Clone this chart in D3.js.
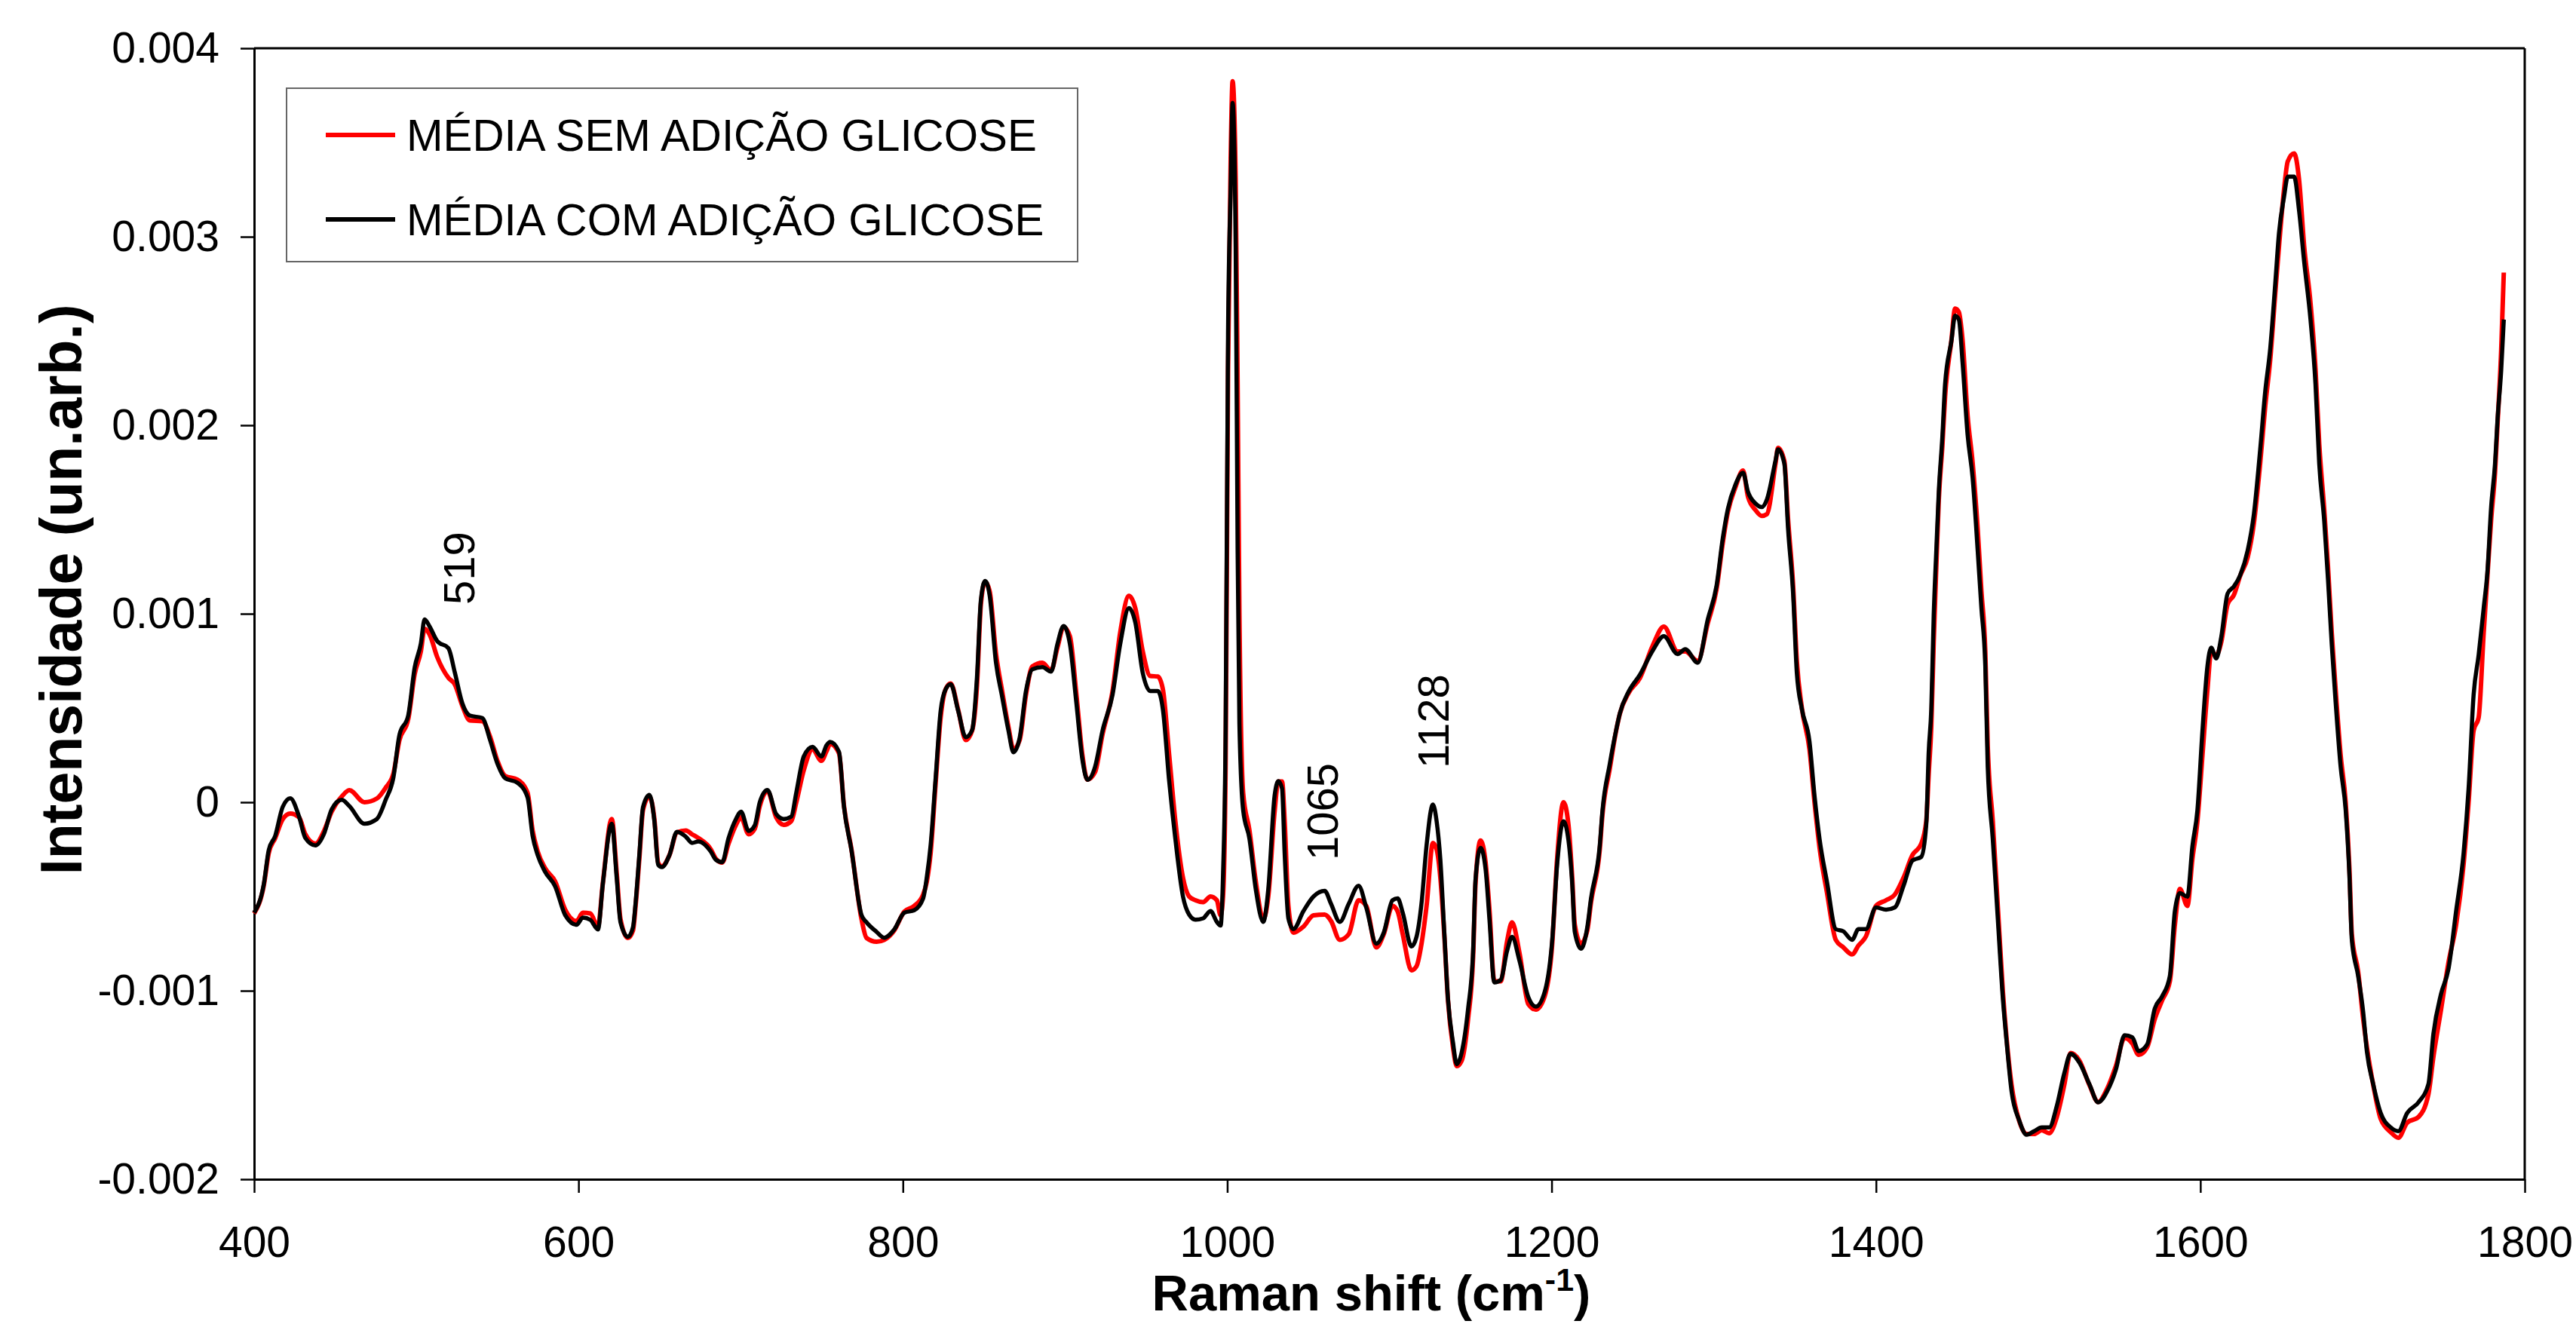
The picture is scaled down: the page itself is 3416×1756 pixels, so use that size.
<!DOCTYPE html>
<html>
<head>
<meta charset="utf-8">
<script src="https://cdn.jsdelivr.net/npm/d3@7/dist/d3.min.js"></script>
<style>
  html, body { margin: 0; padding: 0; background: #fff; }
  svg { display: block; }
  text { font-family: "Liberation Sans", Arial, sans-serif; }
</style>
</head>
<body>
<svg id="chart" width="3416" height="1756"></svg>
<script>
// Raman shift (cm-1)
const wavenumber = [
  400,406,409,413,417.6,422.3,427.7,431.6,437.8,443.2,
  447.8,454,458.7,468,475.7,481.1,485.8,489.6,495,499,
  502.8,505.1,508.2,512.9,519.8,523.7,528.4,533,540.7,545.4,
  550,554.7,562.4,568.6,571.7,574.8,579.4,585.6,591.8,598.8,
  602.7,607.3,612,615,620.5,623.6,625.9,630.5,633.6,635.2,
  637.5,639.8,643.7,646.8,649.1,651.4,656.1,660.7,666.2,670,
  673.9,681.6,684.7,688.6,692.5,697.1,700.2,704.9,708.7,711.8,
  716.5,721.9,726.5,731.2,734.3,738.9,744.3,749.8,752.9,755.2,
  760.6,763.7,768.3,774.5,777.6,783.8,788.5,794.7,800.9,807,
  812.5,814.8,817.1,820.2,823.3,826.4,829.5,834.1,838.8,842.7,
  845.7,848.1,850.7,853.5,857.4,861.2,865.1,868.2,872,875.9,
  879.8,886,891.4,895.3,899.1,903,906.9,910.7,913.8,918.5,
  923.1,929.3,934,939.4,943.3,947.9,952.5,957.2,960.3,964.2,
  968,972.7,976.5,980.4,985.1,989.7,993.6,995.9,997.4,999,
  1000.5,1002.1,1003.3,1005.2,1006.4,1007.5,1009.8,1013.7,1017.6,1022.2,
  1025.3,1029.2,1031.5,1033.8,1035.4,1037.7,1040.8,1047,1053.2,1060.1,
  1064,1069.4,1074.9,1081,1085.7,1091.9,1096.5,1101.9,1105.1,1108.2,
  1113.6,1116.7,1119.8,1122.9,1126.8,1129.1,1131.4,1133.8,1136.1,1139.2,
  1141.5,1144.6,1148.5,1151.6,1153.1,1156.2,1159.3,1161.6,1164.7,1168.6,
  1172.5,1175.6,1180.2,1185.6,1190.3,1195.7,1200.3,1203.4,1207.3,1210.4,
  1212.7,1214.3,1218.1,1222,1224.3,1229.7,1231.3,1235.9,1239.8,1242.1,
  1247.5,1254.5,1262.3,1269.2,1277.7,1282.4,1290.1,1296.3,1301.7,1305.6,
  1308.7,1313.3,1318,1321.1,1325.7,1329.6,1332.7,1338.1,1339.6,1343.5,
  1345.8,1348.9,1351.2,1354.3,1359,1362.1,1365.2,1369.8,1375.2,1379.9,
  1385.3,1389.2,1393.8,1400,1406.2,1411.6,1417,1422.5,1427.9,1431,
  1432.5,1434.1,1435.6,1437.2,1438.7,1441,1442.6,1446.5,1448.8,1451.1,
  1453.4,1456.5,1459.6,1462.7,1465,1467.4,1468.9,1472,1475.1,1478.2,
  1480.5,1483.6,1488.3,1492.9,1497.5,1502.2,1506.8,1511.5,1516.1,1520,
  1525.4,1531.6,1537,1542.5,1547.9,1553.3,1558,1562,1567.2,1571.9,
  1576.5,1581.2,1584.3,1587.4,1592,1595.1,1598.2,1601.3,1604.4,1606.7,
  1609.8,1612.9,1616.8,1620.7,1624.5,1629.2,1633,1636.9,1640,1643.1,
  1646.2,1648.5,1651.6,1653.9,1657.8,1660.9,1664,1667.9,1671,1673.3,
  1676.4,1678.7,1681,1683.4,1686.5,1689.6,1691.9,1693.4,1697.3,1700.4,
  1702.7,1706.6,1711.2,1717.4,1722.1,1727.5,1734.5,1740.6,1743.7,1748.4,
  1753,1757.7,1762.3,1765.4,1768.5,1771.6,1774.7,1777,1779.3,1781.7,
  1783.2,1785.5,1787.1
];

// Intensity values in units of 1e-3 (un.arb.)
const mediaComGlicose = [
  -0.586,-0.433,-0.254,-0.178,-0.025,0.021,-0.076,-0.19,-0.229,-0.165,
  -0.038,0.013,-0.02,-0.114,-0.089,0.013,0.128,0.358,0.46,0.715,
  0.842,0.97,0.932,0.855,0.817,0.69,0.524,0.46,0.447,0.332,
  0.205,0.128,0.103,0.026,-0.178,-0.28,-0.369,-0.446,-0.599,-0.65,
  -0.612,-0.624,-0.675,-0.433,-0.114,-0.407,-0.637,-0.714,-0.663,-0.535,
  -0.28,-0.025,0.039,-0.101,-0.331,-0.344,-0.28,-0.157,-0.183,-0.216,
  -0.208,-0.262,-0.305,-0.318,-0.191,-0.089,-0.05,-0.152,-0.122,0.001,
  0.065,-0.063,-0.089,-0.076,0.052,0.243,0.294,0.243,0.302,0.32,
  0.268,-0.025,-0.254,-0.599,-0.637,-0.688,-0.719,-0.675,-0.586,-0.573,
  -0.51,-0.395,-0.229,0.128,0.485,0.6,0.626,0.485,0.345,0.383,
  0.664,1.072,1.174,1.098,0.741,0.56,0.38,0.265,0.341,0.59,
  0.705,0.717,0.693,0.839,0.935,0.839,0.533,0.226,0.119,0.188,
  0.38,0.571,0.839,1.03,0.954,0.686,0.59,0.59,0.494,0.112,
  -0.194,-0.5,-0.596,-0.623,-0.616,-0.577,-0.635,-0.654,-0.386,0.38,
  2.485,3.25,3.71,2.944,1.336,0.418,-0.041,-0.194,-0.462,-0.635,
  -0.462,0.035,0.112,0.073,-0.271,-0.616,-0.673,-0.577,-0.5,-0.47,
  -0.539,-0.635,-0.539,-0.443,-0.558,-0.75,-0.692,-0.52,-0.51,-0.586,
  -0.765,-0.714,-0.535,-0.229,-0.012,-0.101,-0.305,-0.688,-1.045,-1.275,
  -1.39,-1.326,-1.096,-0.79,-0.408,-0.242,-0.356,-0.612,-0.956,-0.943,
  -0.79,-0.714,-0.841,-1.033,-1.084,-1.007,-0.739,-0.331,-0.101,-0.203,
  -0.433,-0.688,-0.777,-0.663,-0.51,-0.229,-0.05,0.205,0.383,0.472,
  0.587,0.677,0.804,0.881,0.786,0.812,0.74,0.97,1.149,1.404,
  1.557,1.684,1.748,1.646,1.585,1.566,1.605,1.815,1.872,1.796,
  1.451,1.107,0.686,0.494,0.322,0.035,-0.194,-0.424,-0.673,-0.685,
  -0.73,-0.673,-0.673,-0.558,-0.57,-0.558,-0.443,-0.309,-0.29,-0.118,
  0.265,0.494,0.992,1.337,1.643,1.949,2.217,2.447,2.581,2.561,
  2.332,1.949,1.72,1.337,1.03,0.724,0.188,-0.194,-0.616,-1.037,
  -1.266,-1.534,-1.688,-1.764,-1.745,-1.725,-1.725,-1.611,-1.438,-1.335,
  -1.381,-1.496,-1.592,-1.534,-1.419,-1.236,-1.247,-1.32,-1.285,-1.094,
  -1.029,-0.922,-0.577,-0.482,-0.501,-0.233,-0.041,0.38,0.724,0.82,
  0.763,0.877,1.107,1.145,1.203,1.337,1.528,1.872,2.179,2.408,
  2.753,3.021,3.212,3.319,3.319,3.136,2.868,2.562,2.217,1.796,
  1.49,1.183,0.839,0.533,0.188,-0.041,-0.386,-0.73,-0.922,-1.113,
  -1.324,-1.496,-1.649,-1.725,-1.745,-1.649,-1.592,-1.496,-1.228,-1.017,
  -0.884,-0.577,-0.271,0.073,0.571,0.782,1.03,1.222,1.566,1.796,
  2.026,2.293,2.561
];

const mediaSemGlicose = [
  -0.59,-0.44,-0.27,-0.19,-0.09,-0.06,-0.08,-0.17,-0.22,-0.15,
  -0.05,0.03,0.064,0.0,0.02,0.077,0.15,0.33,0.44,0.68,
  0.80,0.92,0.89,0.77,0.66,0.626,0.511,0.434,0.43,0.35,
  0.22,0.14,0.12,0.05,-0.15,-0.26,-0.35,-0.42,-0.57,-0.63,
  -0.586,-0.59,-0.66,-0.43,-0.089,-0.38,-0.62,-0.72,-0.68,-0.55,
  -0.30,-0.04,0.03,-0.09,-0.32,-0.34,-0.28,-0.16,-0.15,-0.17,
  -0.19,-0.25,-0.30,-0.32,-0.22,-0.12,-0.08,-0.17,-0.14,-0.02,
  0.06,-0.08,-0.12,-0.10,0.00,0.17,0.28,0.22,0.27,0.31,
  0.26,-0.02,-0.25,-0.62,-0.72,-0.74,-0.73,-0.68,-0.58,-0.55,
  -0.49,-0.42,-0.27,0.10,0.45,0.60,0.63,0.49,0.33,0.38,
  0.62,1.05,1.17,1.12,0.79,0.59,0.40,0.28,0.33,0.57,
  0.72,0.74,0.70,0.82,0.93,0.88,0.58,0.25,0.12,0.16,
  0.36,0.59,0.90,1.095,1.03,0.80,0.67,0.667,0.60,0.25,
  -0.10,-0.40,-0.50,-0.52,-0.53,-0.50,-0.52,-0.60,-0.50,0.20,
  2.30,3.40,3.825,3.30,2.20,1.00,0.05,-0.15,-0.42,-0.62,
  -0.50,-0.05,0.11,0.11,-0.10,-0.55,-0.692,-0.66,-0.60,-0.596,
  -0.63,-0.73,-0.70,-0.52,-0.55,-0.77,-0.70,-0.55,-0.58,-0.70,
  -0.892,-0.87,-0.75,-0.55,-0.216,-0.25,-0.40,-0.70,-1.05,-1.30,
  -1.40,-1.37,-1.15,-0.82,-0.43,-0.203,-0.32,-0.56,-0.95,-0.95,
  -0.74,-0.637,-0.80,-1.07,-1.10,-1.03,-0.76,-0.30,0.00,-0.12,
  -0.40,-0.65,-0.75,-0.68,-0.53,-0.25,-0.07,0.18,0.38,0.47,
  0.58,0.66,0.83,0.932,0.80,0.80,0.75,0.95,1.13,1.38,
  1.54,1.67,1.76,1.62,1.55,1.519,1.528,1.80,1.88,1.81,
  1.50,1.15,0.75,0.50,0.28,0.00,-0.24,-0.48,-0.73,-0.77,
  -0.807,-0.76,-0.712,-0.55,-0.52,-0.49,-0.40,-0.28,-0.22,-0.10,
  0.15,0.40,0.85,1.25,1.60,1.90,2.15,2.45,2.619,2.60,
  2.45,2.05,1.80,1.45,1.12,0.80,0.30,-0.10,-0.55,-1.00,
  -1.25,-1.50,-1.69,-1.76,-1.76,-1.74,-1.756,-1.67,-1.50,-1.33,
  -1.37,-1.50,-1.59,-1.52,-1.40,-1.25,-1.28,-1.34,-1.30,-1.15,
  -1.05,-0.95,-0.65,-0.46,-0.55,-0.30,-0.10,0.25,0.60,0.80,
  0.78,0.85,1.05,1.10,1.20,1.30,1.48,1.80,2.10,2.35,
  2.70,2.95,3.25,3.40,3.442,3.30,2.95,2.65,2.30,1.90,
  1.55,1.25,0.90,0.60,0.25,0.00,-0.35,-0.70,-0.90,-1.15,
  -1.30,-1.50,-1.68,-1.75,-1.78,-1.70,-1.67,-1.55,-1.35,-1.10,
  -0.85,-0.65,-0.33,0.00,0.38,0.45,0.90,1.20,1.50,1.75,
  2.00,2.40,2.81
];
const valueUnit = 1e-3;

const xTicks = [400, 600, 800, 1000, 1200, 1400, 1600, 1800];
const yTicks = [-0.002, -0.001, 0, 0.001, 0.002, 0.003, 0.004];

const seriesNames = ["MÉDIA SEM ADIÇÃO GLICOSE", "MÉDIA COM ADIÇÃO GLICOSE"];
const seriesColors = ["#ff0000", "#000000"];

const peakLabels = ["519", "1065", "1128"];
const peakLabelX = [536, 1068, 1136.7];      // cm-1, baseline position of rotated label
const peakLabelY = [1.048, -0.308, 0.18];     // 1e-3 units, start of rotated label

// ---------- drawing ----------
const svg = d3.select("#chart");
const plotLeft = 337, plotRight = 3348, plotTop = 64, plotBottom = 1564;
const FONT = '"Liberation Sans", Arial, sans-serif';

const x = d3.scaleLinear().domain([400, 1800]).range([plotLeft, plotRight]);
const y = d3.scaleLinear().domain([-0.002, 0.004]).range([plotBottom, plotTop]);

svg.append("rect").attr("width", 3416).attr("height", 1756).attr("fill", "#fff");

// frame (top + right)
svg.append("line").attr("x1", plotLeft).attr("x2", plotRight).attr("y1", plotTop).attr("y2", plotTop)
  .attr("stroke", "#000").attr("stroke-width", 3);
svg.append("line").attr("x1", plotRight).attr("x2", plotRight).attr("y1", plotTop).attr("y2", plotBottom)
  .attr("stroke", "#000").attr("stroke-width", 3);

// axes
const fmtY = d => d === 0 ? "0" : d3.format(".3f")(d).replace("\u2212", "-");
const yAxis = d3.axisLeft(y).tickValues(yTicks).tickFormat(fmtY).tickSize(18).tickSizeOuter(0).tickPadding(28);
const xAxis = d3.axisBottom(x).tickValues(xTicks).tickFormat(d3.format("d")).tickSize(18).tickSizeOuter(0).tickPadding(45);

const gy = svg.append("g").attr("transform", `translate(${plotLeft},0)`).call(yAxis);
const gx = svg.append("g").attr("transform", `translate(0,${plotBottom})`).call(xAxis);
[gx, gy].forEach(g => {
  g.select(".domain").attr("stroke", "#000").attr("stroke-width", 3);
  g.selectAll(".tick line").attr("stroke", "#000").attr("stroke-width", 2.5);
  g.selectAll(".tick text").attr("font-family", FONT).attr("font-size", 57).attr("fill", "#000");
});

// series
const line = d3.line()
  .x(d => x(d[0]))
  .y(d => y(d[1] * valueUnit))
  .curve(d3.curveMonotoneX);

const n = Math.min(wavenumber.length, mediaSemGlicose.length, mediaComGlicose.length);
const semData = d3.range(n).map(i => [wavenumber[i], mediaSemGlicose[i]]);
const comData = d3.range(n).map(i => [wavenumber[i], mediaComGlicose[i]]);

svg.append("path").datum(semData).attr("d", line)
  .attr("fill", "none").attr("stroke", seriesColors[0]).attr("stroke-width", 6)
  .attr("stroke-linejoin", "round");
svg.append("path").datum(comData).attr("d", line)
  .attr("fill", "none").attr("stroke", seriesColors[1]).attr("stroke-width", 5.5)
  .attr("stroke-linejoin", "round");

// peak annotations (rotated)
peakLabels.forEach((t, i) => {
  svg.append("text")
    .attr("transform", `translate(${x(peakLabelX[i])},${y(peakLabelY[i] * valueUnit)}) rotate(-90)`)
    .attr("font-family", FONT).attr("font-size", 58).attr("fill", "#000")
    .text(t);
});

// legend
const lg = svg.append("g");
lg.append("rect").attr("x", 380).attr("y", 117).attr("width", 1049).attr("height", 230)
  .attr("fill", "#fff").attr("stroke", "#666").attr("stroke-width", 2);
seriesNames.forEach((name, i) => {
  const yy = 179 + i * 112;
  lg.append("line").attr("x1", 432).attr("x2", 524).attr("y1", yy).attr("y2", yy)
    .attr("stroke", seriesColors[i]).attr("stroke-width", 6);
  lg.append("text").attr("x", 539).attr("y", yy).attr("dy", "0.36em")
    .attr("font-family", FONT).attr("font-size", 58.3).attr("fill", "#000").text(name);
});

// axis titles
svg.append("text")
  .attr("x", (plotLeft + plotRight) / 2 - 24).attr("y", 1738)
  .attr("text-anchor", "middle")
  .attr("font-family", FONT).attr("font-size", 67).attr("font-weight", "bold").attr("fill", "#000")
  .call(t => {
    t.append("tspan").text("Raman shift (cm");
    t.append("tspan").attr("dy", -26).attr("font-size", 43).text("-1");
    t.append("tspan").attr("dy", 26).text(")");
  });

svg.append("text")
  .attr("transform", `translate(108,782) rotate(-90)`)
  .attr("text-anchor", "middle")
  .attr("font-family", FONT).attr("font-size", 77).attr("font-weight", "bold").attr("fill", "#000")
  .text("Intensidade (un.arb.)");
</script>
</body>
</html>
